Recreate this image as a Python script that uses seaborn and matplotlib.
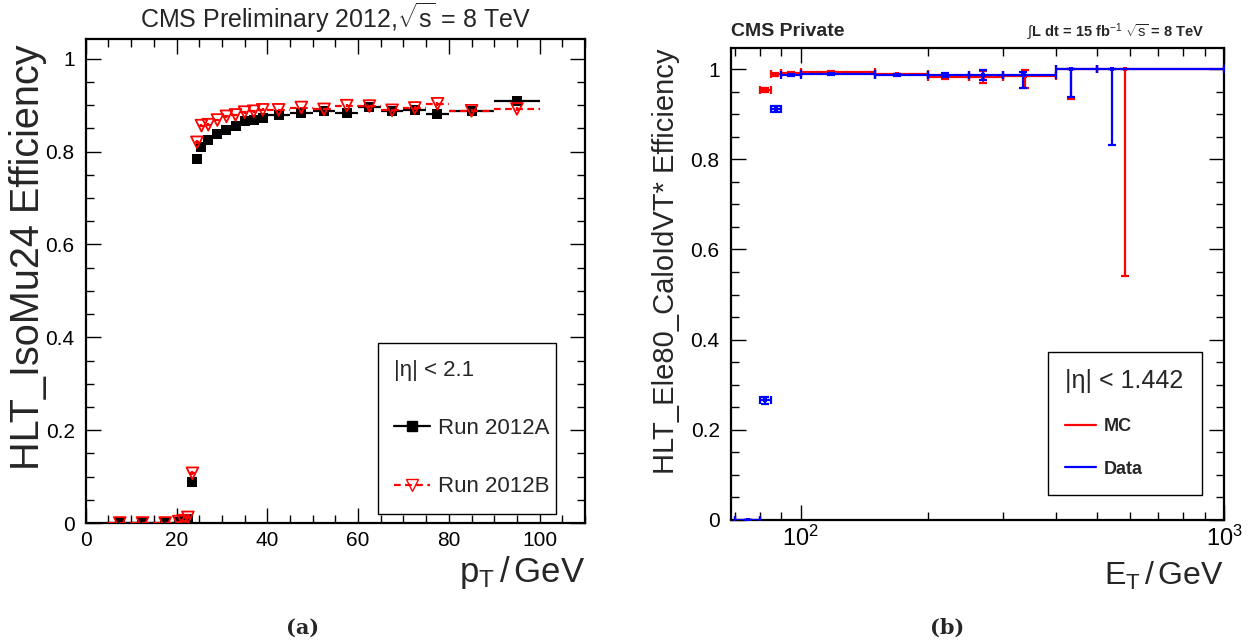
import numpy as np
import pandas as pd
import matplotlib
matplotlib.use("Agg")
import matplotlib.pyplot as plt
import seaborn as sns
from matplotlib.ticker import MultipleLocator, FuncFormatter, LogLocator, NullFormatter
from matplotlib.lines import Line2D

# ---------------- Left panel data (HLT_IsoMu24) ----------------
mu_edges = [5, 10, 15, 20, 21, 22, 23, 24, 25, 26, 28, 30, 32, 34, 36, 38, 40,
            45, 50, 55, 60, 65, 70, 75, 80, 90, 100]
eff_2012A = [0.0, 0.0, 0.0, 0.002, 0.004, 0.008, 0.088, 0.784, 0.810, 0.826,
             0.838, 0.847, 0.855, 0.865, 0.869, 0.873, 0.879, 0.883, 0.887,
             0.883, 0.897, 0.887, 0.890, 0.880, 0.887, 0.908]
eff_2012B = [0.0, 0.0, 0.0, 0.003, 0.005, 0.012, 0.107, 0.820, 0.856, 0.858,
             0.868, 0.876, 0.879, 0.885, 0.887, 0.890, 0.890, 0.895, 0.891,
             0.899, 0.898, 0.889, 0.894, 0.903, 0.888, 0.892]
err_2012A = [0.001, 0.001, 0.001, 0.002, 0.002, 0.003, 0.004, 0.005, 0.004, 0.003,
             0.003, 0.003, 0.003, 0.003, 0.003, 0.003, 0.002, 0.002, 0.002,
             0.003, 0.003, 0.003, 0.004, 0.004, 0.003, 0.005]
err_2012B = [0.001, 0.001, 0.001, 0.002, 0.002, 0.003, 0.004, 0.004, 0.004, 0.003,
             0.003, 0.003, 0.003, 0.003, 0.003, 0.003, 0.002, 0.002, 0.002,
             0.003, 0.003, 0.003, 0.004, 0.004, 0.003, 0.004]

# ---------------- Right panel data (HLT_Ele80_CaloIdVT*) ----------------
ele_edges = [70, 80, 85, 90, 100, 150, 200, 250, 300, 400, 500, 1000]
mc_x = [75, 82.3, 87.0, 94.6, 118, 169, 219, 269, 338, 434, 583]
data_x = [75, 82.3, 87.3, 94.6, 118, 169, 219, 269, 335, 434, 543]
mc_eff = [0.0, 0.953, 0.988, 0.991, 0.994, 0.988, 0.983, 0.983, 0.984, 1.0, 1.0]
mc_lo = [0.0, 0.005, 0.003, 0.002, 0.002, 0.002, 0.006, 0.013, 0.027, 0.067, 0.459]
mc_hi = [0.0, 0.005, 0.003, 0.002, 0.002, 0.002, 0.006, 0.013, 0.014, 0.0, 0.0]
data_eff = [0.0, 0.265, 0.911, 0.987, 0.989, 0.987, 0.987, 0.987, 0.987, 1.0, 1.0]
data_lo = [0.0, 0.008, 0.007, 0.002, 0.002, 0.002, 0.005, 0.011, 0.028, 0.061, 0.169]
data_hi = [0.0, 0.008, 0.007, 0.002, 0.002, 0.002, 0.005, 0.011, 0.006, 0.0, 0.0]

# ---------------- Style ----------------
sns.set_theme(style="ticks")
plt.rcParams["font.family"] = ["Liberation Sans", "DejaVu Sans"]
plt.rcParams["mathtext.fontset"] = "custom"
plt.rcParams["mathtext.rm"] = "Liberation Sans"
plt.rcParams["mathtext.it"] = "Liberation Sans:italic"
plt.rcParams["mathtext.bf"] = "Liberation Sans:bold"
plt.rcParams["axes.linewidth"] = 1.6
plt.rcParams["axes.edgecolor"] = "black"

fig = plt.figure(figsize=(12.5, 6.43), dpi=100)
fig.patch.set_facecolor("white")
ax1 = fig.add_axes([0.0686, 0.1866, 0.3994, 0.7523])
ax2 = fig.add_axes([0.5846, 0.1913, 0.3946, 0.7336])

fmt_g = FuncFormatter(lambda v, p: f"{v:g}")


def style_ticks(ax):
    ax.tick_params(which="both", direction="in", top=True, right=True,
                   color="black", labelsize=15, labelcolor="black")
    ax.tick_params(which="major", length=11, width=1.0)
    ax.tick_params(which="minor", length=5.5, width=1.0)
    ax.tick_params(axis="y", which="major", pad=8)
    ax.tick_params(axis="x", which="major", pad=6)


# ---------------- Left panel ----------------
mu_lo = np.array(mu_edges[:-1], dtype=float)
mu_hi = np.array(mu_edges[1:], dtype=float)
mu_c = (mu_lo + mu_hi) / 2
mu_half = (mu_hi - mu_lo) / 2

ax1.errorbar(mu_c, eff_2012A, xerr=mu_half, yerr=err_2012A, fmt="none",
             ecolor="black", elinewidth=1.6, zorder=2)
ebB = ax1.errorbar(mu_c, eff_2012B, xerr=mu_half, yerr=err_2012B, fmt="none",
                   ecolor="red", elinewidth=1.6, zorder=4)
ebB[2][0].set_linestyle((0, (3, 2)))

dfA = pd.DataFrame({"pt": mu_c, "eff": eff_2012A})
dfB = pd.DataFrame({"pt": mu_c, "eff": eff_2012B})
sns.scatterplot(data=dfA, x="pt", y="eff", marker="s", s=52, color="black",
                linewidth=0, ax=ax1, zorder=3, legend=False)
sns.scatterplot(data=dfB, x="pt", y="eff", marker="v", s=72, color="red",
                ax=ax1, zorder=5, legend=False)
collB = ax1.collections[-1]
collB.set_facecolor("none")
collB.set_edgecolor("red")
collB.set_linewidth(1.3)

ax1.set_xlim(0, 110)
ax1.set_ylim(0, 1.042)
ax1.xaxis.set_major_locator(MultipleLocator(20))
ax1.xaxis.set_minor_locator(MultipleLocator(5))
ax1.yaxis.set_major_locator(MultipleLocator(0.2))
ax1.yaxis.set_minor_locator(MultipleLocator(0.05))
ax1.yaxis.set_major_formatter(fmt_g)
ax1.xaxis.set_major_formatter(fmt_g)
style_ticks(ax1)

ax1.set_ylabel("HLT_IsoMu24 Efficiency", fontsize=28.5, loc="top")
ax1.yaxis.set_label_coords(-0.0775, 0.99)
ax1.set_xlabel(r"p$_{\mathrm{T}}\,$/$\,$GeV", fontsize=25, loc="right")
ax1.xaxis.set_label_coords(1.0, -0.065)
ax1.text(0.5, 1.044, r"CMS Preliminary 2012,$\sqrt{\mathrm{s}}$ = 8 TeV",
         transform=ax1.transAxes, ha="center", va="center", fontsize=18)

hA = Line2D([], [], color="black", lw=1.6, marker="s", markersize=6.5)
hB = Line2D([], [], color="red", lw=1.6, ls=(0, (3, 2)), marker="v",
            markersize=8, markerfacecolor="none", markeredgecolor="red")
leg1 = ax1.legend(handles=[hA, hB], labels=["Run 2012A", "Run 2012B"],
                  title="|η| < 2.1", title_fontsize=16, fontsize=16,
                  loc="upper left", bbox_to_anchor=(0.585, 0.0476, 0.357, 0.3245),
                  mode="expand", alignment="left", frameon=True, fancybox=False,
                  edgecolor="black", framealpha=1, borderpad=0.75,
                  labelspacing=1.68, handlelength=1.6, handletextpad=0.35,
                  borderaxespad=0)
leg1.get_frame().set_linewidth(1.0)

# ---------------- Right panel ----------------
e_lo = np.array(ele_edges[:-1], dtype=float)
e_hi = np.array(ele_edges[1:], dtype=float)
mcx = np.array(mc_x)
dx = np.array(data_x)

ax2.errorbar(mcx, mc_eff, xerr=[mcx - e_lo, e_hi - mcx], yerr=[mc_lo, mc_hi],
             fmt="none", ecolor="red", elinewidth=1.6, capsize=3,
             capthick=1.6, zorder=2)
ax2.errorbar(dx, data_eff, xerr=[dx - e_lo, e_hi - dx], yerr=[data_lo, data_hi],
             fmt="none", ecolor="blue", elinewidth=1.6, capsize=3,
             capthick=1.6, zorder=3)
dfMC = pd.DataFrame({"et": mcx, "eff": mc_eff})
dfD = pd.DataFrame({"et": dx, "eff": data_eff})
sns.scatterplot(data=dfMC, x="et", y="eff", marker="s", s=9, color="red",
                linewidth=0, ax=ax2, zorder=2.5, legend=False)
sns.scatterplot(data=dfD, x="et", y="eff", marker="s", s=9, color="blue",
                linewidth=0, ax=ax2, zorder=3.5, legend=False)

ax2.set_xscale("log")
ax2.set_xlim(68.3, 1000)
ax2.set_ylim(0, 1.046)
ax2.xaxis.set_major_locator(LogLocator(base=10))
ax2.xaxis.set_minor_locator(LogLocator(base=10, subs=np.arange(2, 10)))
ax2.xaxis.set_minor_formatter(NullFormatter())
ax2.yaxis.set_major_locator(MultipleLocator(0.2))
ax2.yaxis.set_minor_locator(MultipleLocator(0.05))
ax2.yaxis.set_major_formatter(fmt_g)
style_ticks(ax2)
ax2.tick_params(axis="x", which="major", labelsize=17, pad=4)

ax2.set_ylabel("HLT_Ele80_CaloIdVT* Efficiency", fontsize=21, loc="top")
ax2.yaxis.set_label_coords(-0.103, 1.0)
ax2.set_xlabel(r"E$_{\mathrm{T}}\,$/$\,$GeV", fontsize=23, loc="right")
ax2.xaxis.set_label_coords(1.0, -0.085)
ax2.text(0.0, 1.035, "CMS Private", transform=ax2.transAxes, ha="left",
         va="center", fontsize=14, fontweight="bold")
ax2.text(0.961, 1.035, r"$\int$L dt = 15 fb$^{-1}$ $\sqrt{\mathrm{s}}$ = 8 TeV",
         transform=ax2.transAxes, ha="right", va="center", fontsize=10.5,
         fontweight="bold")

hMC = Line2D([], [], color="red", lw=1.6)
hD = Line2D([], [], color="blue", lw=1.6)
leg2 = ax2.legend(handles=[hMC, hD], labels=["MC", "Data"],
                  title="|η| < 1.442", title_fontsize=18,
                  prop={"weight": "bold", "size": 13},
                  loc="upper left", bbox_to_anchor=(0.643, 0.042, 0.312, 0.314),
                  mode="expand", alignment="left", frameon=True, fancybox=False,
                  edgecolor="black", framealpha=1, borderpad=0.95,
                  labelspacing=1.4, handlelength=1.7, handletextpad=0.45,
                  borderaxespad=0)
leg2.get_frame().set_linewidth(1.0)

# Panel captions
fig.text(303 / 1250, 1 - 628 / 643, "(a)", ha="center", va="center",
         family="DejaVu Serif", fontweight="bold", fontsize=15)
fig.text(947 / 1250, 1 - 628 / 643, "(b)", ha="center", va="center",
         family="DejaVu Serif", fontweight="bold", fontsize=15)

fig.savefig("out.png", dpi=100, facecolor="white")
